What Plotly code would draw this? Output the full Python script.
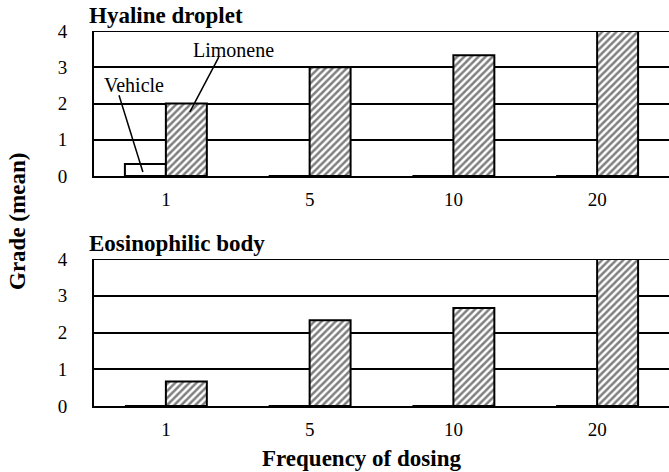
import plotly.graph_objects as go

categories = ["1", "5", "10", "20"]
hyaline_vehicle = [0.33, 0, 0, 0]
hyaline_limonene = [2.0, 3.0, 3.33, 4.0]
eosin_vehicle = [0, 0, 0, 0]
eosin_limonene = [0.67, 2.33, 2.67, 4.0]
y_ticks = [0, 1, 2, 3, 4]

SERIF = "Liberation Serif"

fig = go.Figure()

def add_pair(veh, lim, xa, ya):
    fig.add_trace(go.Bar(x=categories, y=veh, name="Vehicle", xaxis=xa, yaxis=ya,
                         marker=dict(color="white", line=dict(color="black", width=2)),
                         showlegend=False, hoverinfo="skip"))
    fig.add_trace(go.Bar(x=categories, y=lim, name="Limonene", xaxis=xa, yaxis=ya,
                         marker=dict(color="white", line=dict(color="black", width=2),
                                     pattern=dict(shape="/", fgcolor="black", bgcolor="white",
                                                  size=5, solidity=0.5)),
                         showlegend=False, hoverinfo="skip"))

add_pair(hyaline_vehicle, hyaline_limonene, "x", "y")
add_pair(eosin_vehicle, eosin_limonene, "x2", "y2")

H = 472
W = 669
L = 94
R = 0
pw = W - L - R

def py(p):
    return 1 - p / H

def px(p):
    return (p - L) / pw

tickfont = dict(family=SERIF, size=19, color="black")
xax = dict(showline=True, linecolor="black", linewidth=2, ticks="", ticklabelstandoff=5,
           tickfont=tickfont, automargin=False, domain=[0, 1], showgrid=False)
yax = dict(showline=True, linecolor="black", linewidth=2, ticks="", range=[0, 4],
           tickvals=y_ticks, showgrid=True, gridcolor="black", gridwidth=2, zeroline=False,
           ticklabelstandoff=21, tickfont=tickfont, automargin=False)

fig.update_layout(
    width=W, height=H,
    margin=dict(l=L, r=R, t=0, b=0, pad=0, autoexpand=False),
    plot_bgcolor="white", paper_bgcolor="white",
    barmode="group", bargap=0.43, bargroupgap=0,
    xaxis=dict(**xax, anchor="y"),
    yaxis=dict(**yax, domain=[py(176), py(31)], anchor="x"),
    xaxis2=dict(**xax, anchor="y2"),
    yaxis2=dict(**yax, domain=[py(406), py(259)], anchor="x2"),
    font=dict(family=SERIF, color="black"),
    hovermode=False,
)

for yref, xr in [("y", "x"), ("y2", "x2")]:
    fig.add_shape(type="line", xref=xr + " domain", yref=yref, x0=0, x1=1, y0=4, y1=4,
                  line=dict(color="black", width=2), layer="below")

title_font = dict(family=SERIF, size=23, color="black")
fig.add_annotation(text="<b>Hyaline droplet</b>", xref="paper", yref="paper",
                   x=px(87), y=py(15), xanchor="left", yanchor="middle",
                   showarrow=False, font=title_font)
fig.add_annotation(text="<b>Eosinophilic body</b>", xref="paper", yref="paper",
                   x=px(87), y=py(244), xanchor="left", yanchor="middle",
                   showarrow=False, font=title_font)
fig.add_annotation(text="<b>Grade (mean)</b>", xref="paper", yref="paper",
                   x=px(17), y=py(222), xanchor="center", yanchor="middle",
                   textangle=-90, showarrow=False, font=title_font)
fig.add_annotation(text="<b>Frequency of dosing</b>", xref="paper", yref="paper",
                   x=px(361), y=py(458), xanchor="center", yanchor="middle",
                   showarrow=False, font=title_font)

label_font = dict(family=SERIF, size=20, color="black")
fig.add_annotation(text="Vehicle", xref="x", yref="y", x=-0.22, y=2.51,
                   showarrow=False, font=label_font)
fig.add_annotation(text="Limonene", xref="x", yref="y", x=0.47, y=3.48,
                   showarrow=False, font=label_font)
fig.add_shape(type="line", xref="x", yref="y", x0=-0.326, y0=2.23, x1=-0.16, y1=0.11,
              line=dict(color="black", width=1.5))
fig.add_shape(type="line", xref="x", yref="y", x0=0.368, y0=3.28, x1=0.167, y1=1.77,
              line=dict(color="black", width=1.5))

fig.write_html("out.html", config={"displayModeBar": False},
               post_script="document.body.style.margin='0';document.body.style.padding='0';")
